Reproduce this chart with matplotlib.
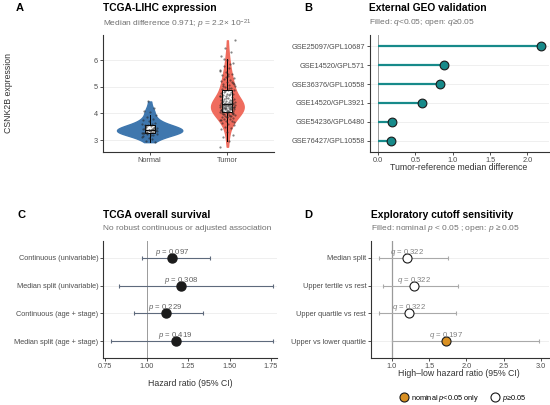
import numpy as np
import matplotlib
matplotlib.use("Agg")
import matplotlib.pyplot as plt
from matplotlib.lines import Line2D

plt.rcParams['font.family'] = ['Liberation Sans', 'DejaVu Sans']
plt.rcParams['mathtext.fontset'] = 'custom'
plt.rcParams['mathtext.rm'] = 'Liberation Sans'
plt.rcParams['mathtext.it'] = 'Liberation Sans:italic'

# A: CSNK2B expression (TCGA-LIHC)
normal_expr = [3.25, 3.30, 3.32, 3.35, 3.38, 3.40, 3.42, 3.28, 3.22, 3.18,
               3.45, 3.50, 3.55, 3.60, 3.62, 3.48, 3.36, 3.33, 3.27, 3.29,
               3.31, 3.44, 3.52, 3.58, 3.65, 3.70, 3.75, 3.80, 3.85, 3.95,
               4.05, 4.10, 4.20, 4.45, 3.12, 3.05, 2.98, 2.92, 3.08, 3.15,
               3.20, 3.24, 3.34, 3.39, 3.41, 3.46, 3.37, 3.26, 3.43, 3.53]
tumor_expr = [2.75, 2.95, 3.10, 3.20, 3.30, 3.40, 3.45, 3.50, 3.55, 3.60,
              3.65, 3.70, 3.72, 3.75, 3.78, 3.80, 3.82, 3.85, 3.88, 3.90,
              3.92, 3.94, 3.96, 3.98, 3.99, 3.86, 3.74, 3.91, 3.97, 3.68,
              4.00, 4.01, 4.03, 4.05, 4.06, 4.08, 4.10, 4.11, 4.12, 4.14,
              4.15, 4.16, 4.18, 4.19, 4.20, 4.21, 4.22, 4.23, 4.24, 4.25,
              4.26, 4.27, 4.28, 4.29, 4.30, 4.30, 4.31, 4.32, 4.02, 4.07,
              4.13, 4.17, 4.22, 4.26, 4.09, 4.18, 4.24, 4.28,
              4.33, 4.34, 4.35, 4.36, 4.37, 4.38, 4.40, 4.41, 4.42, 4.44,
              4.45, 4.47, 4.48, 4.50, 4.52, 4.54, 4.55, 4.57, 4.60, 4.62,
              4.64, 4.66, 4.68, 4.70, 4.72, 4.75, 4.78, 4.80, 4.84, 4.88,
              4.36, 4.43, 4.51, 4.58, 4.65, 4.73, 4.82, 4.39,
              4.90, 4.93, 4.96, 5.00, 5.03, 5.06, 5.10, 5.14, 5.18, 5.22,
              5.25, 5.30, 5.35, 5.40, 5.45, 5.50, 5.55, 5.60, 5.70, 5.80,
              5.90, 6.00, 6.15, 6.30, 6.45, 6.75, 4.95, 5.05, 5.20, 5.38,
              5.65, 5.85, 6.05, 5.12, 5.48]
groups = ["Normal", "Tumor"]

# B: external GEO validation
geo_sets = ["GSE25097/GPL10687", "GSE14520/GPL571", "GSE36376/GPL10558",
            "GSE14520/GPL3921", "GSE54236/GPL6480", "GSE76427/GPL10558"]
geo_diff = [2.18, 0.88, 0.83, 0.59, 0.18, 0.17]

# C: TCGA overall survival
os_models = ["Continuous (univariable)", "Median split (univariable)",
             "Continuous (age + stage)", "Median split (age + stage)"]
os_hr = [1.155, 1.21, 1.115, 1.175]
os_lo = [0.973, 0.835, 0.925, 0.785]
os_hi = [1.38, 1.76, 1.34, 1.76]
os_p = ["0.097", "0.308", "0.229", "0.419"]

# D: exploratory cutoffs
cut_names = ["Median split", "Upper tertile vs rest", "Upper quartile vs rest",
             "Upper vs lower quartile"]
cut_hr = [1.205, 1.30, 1.23, 1.725]
cut_lo = [0.83, 0.88, 0.83, 1.00]
cut_hi = [1.76, 1.89, 1.86, 2.98]
cut_q = ["0.322", "0.322", "0.322", "0.197"]
cut_nominal = [False, False, False, True]

W, H = 550, 405
fig = plt.figure(figsize=(5.5, 4.05), dpi=100)


def box(l, r, t, b):
    return [l / W, 1 - b / H, (r - l) / W, (b - t) / H]


def ftext(x, y, s, **kw):
    fig.text(x / W, 1 - y / H, s, **kw)


def style(ax):
    for sp in ["top", "right"]:
        ax.spines[sp].set_visible(False)
    for sp in ["left", "bottom"]:
        ax.spines[sp].set_color("#333333")
        ax.spines[sp].set_linewidth(0.8)
    ax.tick_params(length=2, width=0.6, color="#333333", labelsize=5.3,
                   labelcolor="#4d4d4d", pad=1.5)
    ax.grid(axis="y", color="#ececec", linewidth=0.6)
    ax.set_axisbelow(True)


TITLE = dict(fontsize=7.4, fontweight="bold", va="center", ha="left")
SUB = dict(fontsize=6, color="#707070", va="center", ha="left")
LAB = dict(fontsize=8, fontweight="bold", va="center", ha="left")
AXT = dict(fontsize=6.3, color="#333333", va="center", ha="center")

# ---- A
ax = fig.add_axes(box(103, 274, 35, 152))
style(ax)
vp = ax.violinplot([normal_expr, tumor_expr], positions=[1, 2],
                   widths=[0.84, 0.42], showextrema=False)
for body, c in zip(vp["bodies"], ["#3F77AE", "#EF6C5E"]):
    body.set_facecolor(c)
    body.set_edgecolor(c)
    body.set_alpha(1)
ax.boxplot([normal_expr, tumor_expr], positions=[1, 2], widths=0.13,
           showfliers=False, patch_artist=True, showcaps=False,
           boxprops=dict(facecolor="white", edgecolor="black", linewidth=0.7),
           medianprops=dict(color="black", linewidth=0.9),
           whiskerprops=dict(color="black", linewidth=0.7))
for pos, vals in zip([1, 2], [normal_expr, tumor_expr]):
    idx = np.arange(len(vals))
    jit = ((idx * 0.618034) % 1 - 0.5) * 0.2
    ax.scatter(pos + jit, vals, s=2.5, color="#222222", alpha=0.55,
               linewidths=0, zorder=3)
ax.set_xlim(0.4, 2.6)
ax.set_ylim(2.55, 6.95)
ax.set_xticks([1, 2])
ax.set_xticklabels(groups)
ax.set_yticks([3, 4, 5, 6])
ftext(16, 8, "A", **LAB)
ftext(103, 8, "TCGA-LIHC expression", **TITLE)
ftext(103, 24, "Median difference 0.971; $p$ = 2.2× 10$^{-21}$", **SUB)
ftext(9, 93, "CSNK2B expression", rotation=90, **AXT)

# ---- B
ax = fig.add_axes(box(370, 549, 35, 152))
style(ax)
ypos = np.arange(len(geo_sets))
ax.axvline(0, color="#9a9a9a", linewidth=0.7, zorder=1)
ax.hlines(ypos, 0, geo_diff, color="#178A8A", linewidth=1.6, zorder=2)
ax.plot(geo_diff, ypos, "o", ms=6.3, mfc="#178A8A", mec="#1a1a1a",
        mew=0.8, zorder=3)
ax.set_yticks(ypos)
ax.set_yticklabels(geo_sets)
ax.set_ylim(len(geo_sets) - 0.4, -0.6)
ax.set_xlim(-0.109, 2.29)
ax.set_xticks([0, 0.5, 1.0, 1.5, 2.0])
ax.set_xticklabels(["0.0", "0.5", "1.0", "1.5", "2.0"])
ftext(304, 8, "B", **LAB)
ftext(369, 8, "External GEO validation", **TITLE)
ftext(369, 22, "Filled: $q$<0.05; open: $q$≥0.05", **SUB)
ftext(459, 168, "Tumor-reference median difference", **AXT)

# ---- C
ax = fig.add_axes(box(103, 277, 241, 358))
style(ax)
ypos = np.arange(len(os_models))
ax.axvline(1.0, color="#9a9a9a", linewidth=0.7, zorder=1)
ax.errorbar(os_hr, ypos,
            xerr=[np.array(os_hr) - np.array(os_lo),
                  np.array(os_hi) - np.array(os_hr)],
            fmt="none", ecolor="#5E6A7C", elinewidth=0.8, capsize=1.5,
            capthick=0.8, zorder=2)
ax.plot(os_hr, ypos, "o", ms=6.5, color="#1b1b1b", zorder=3)
for x, y, p in zip(os_hr, ypos, os_p):
    ax.text(x, y - 0.2, "$p$ = " + p, fontsize=5.6, color="#606060",
            ha="center", va="center", zorder=4)
ax.set_yticks(ypos)
ax.set_yticklabels(os_models)
ax.set_ylim(len(os_models) - 0.4, -0.6)
ax.set_xlim(0.738, 1.786)
ax.set_xticks([0.75, 1.0, 1.25, 1.5, 1.75])
ax.set_xticklabels(["0.75", "1.00", "1.25", "1.50", "1.75"])
ftext(17, 215, "C", **LAB)
ftext(103, 215, "TCGA overall survival", **TITLE)
ftext(103, 229, "No robust continuous or adjusted association", **SUB)
ftext(190, 383, "Hazard ratio (95% CI)", **AXT)

# ---- D
ax = fig.add_axes(box(371, 549, 241, 358))
style(ax)
ypos = np.arange(len(cut_names))
ax.axvline(1.0, color="#9a9a9a", linewidth=0.9, zorder=1)
ax.errorbar(cut_hr, ypos,
            xerr=[np.array(cut_hr) - np.array(cut_lo),
                  np.array(cut_hi) - np.array(cut_hr)],
            fmt="none", ecolor="#a9a9a9", elinewidth=0.8, capsize=1.5,
            capthick=0.8, zorder=2)
for x, y, nom, q in zip(cut_hr, ypos, cut_nominal, cut_q):
    ax.plot(x, y, "o", ms=6.5, mfc="#D99022" if nom else "white",
            mec="#1a1a1a", mew=0.8, zorder=3)
    ax.text(x, y - 0.2, "$q$ = " + q, fontsize=5.6, color="#808080",
            ha="center", va="center", zorder=4)
ax.set_yticks(ypos)
ax.set_yticklabels(cut_names)
ax.set_ylim(len(cut_names) - 0.4, -0.6)
ax.set_xlim(0.72, 3.11)
ax.set_xticks([1.0, 1.5, 2.0, 2.5, 3.0])
ftext(304, 215, "D", **LAB)
ftext(371, 215, "Exploratory cutoff sensitivity", **TITLE)
ftext(371, 229, "Filled: nominal $p$ < 0.05 ; open: $p$ ≥ 0.05", **SUB)
ftext(459, 374, "High–low hazard ratio (95% CI)", **AXT)

handles = [Line2D([], [], marker="o", ls="", ms=6.5, mfc="#D99022",
                  mec="#1a1a1a", mew=0.8),
           Line2D([], [], marker="o", ls="", ms=6.5, mfc="white",
                  mec="#1a1a1a", mew=0.8)]
fig.legend(handles, ["nominal $p$<0.05 only", "$p$≥0.05"], ncol=2,
           loc="center", bbox_to_anchor=(463 / W, 1 - 398 / H),
           frameon=False, fontsize=5.3, handletextpad=0.4,
           columnspacing=1.5, handlelength=1.2)

fig.savefig("out.png", dpi=100)
